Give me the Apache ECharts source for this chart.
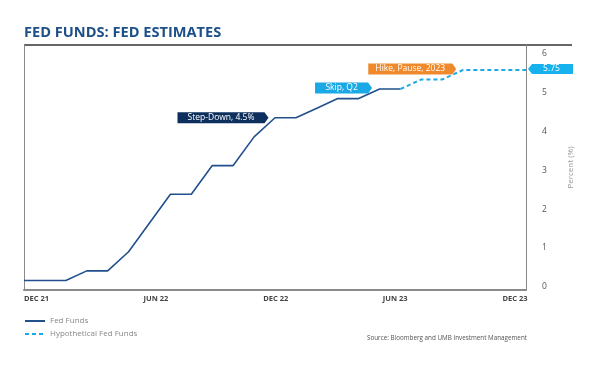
<!DOCTYPE html>
<html>
<head>
<meta charset="utf-8">
<script src="https://cdn.jsdelivr.net/npm/echarts@6/dist/echarts.min.js"></script>
<style>html,body{margin:0;padding:0;background:#fff}#c{width:600px;height:367px}</style>
</head>
<body>
<div id="c"></div>
<script>
const months = ['Dec 21','Jan 22','Feb 22','Mar 22','Apr 22','May 22','Jun 22','Jul 22','Aug 22','Sep 22','Oct 22','Nov 22','Dec 22',
  'Jan 23','Feb 23','Mar 23','Apr 23','May 23','Jun 23','Jul 23','Aug 23','Sep 23','Oct 23','Nov 23','Dec 23'];
const fedFunds = [0.25,0.25,0.25,0.5,0.5,1.0,1.75,2.5,2.5,3.25,3.25,4.0,4.5,4.5,4.75,5.0,5.0,5.25,5.25];
const hypothetical = [null,null,null,null,null,null,null,null,null,null,null,null,null,null,null,null,null,null,5.25,5.5,5.5,5.75,5.75,5.75,5.75];
const xTickLabels = {0:'DEC 21',6:'JUN 22',12:'DEC 22',18:'JUN 23',24:'DEC 23'};
const yTickLabels = ['0','1','2','3','4','5','6'];
const notes = [
  {name:'Step-Down, 4.5%', at:'Dec 22', value:4.5},
  {name:'Skip, Q2', at:'May 23', value:5.25},
  {name:'Hike, Pause, 2023', at:'Sep 23', value:5.75},
  {name:'5.75', at:'Dec 23', value:5.75}
];

const FONT = "'Open Sans', sans-serif";
const chart = echarts.init(document.getElementById('c'));
function tag(w){return 'path://M0,0L'+(w-4)+',0L'+w+',5L'+(w-4)+',10L0,10Z';}
const lbl = (t, off) => ({show:true, position:'inside', formatter:t, color:'#fff', fontSize:8.5, fontFamily:FONT, offset:off});
chart.setOption({
  animation:false,
  textStyle:{fontFamily:FONT},
  title:[
    {text:'FED FUNDS: FED ESTIMATES', left:19, top:20, textStyle:{fontFamily:FONT, fontWeight:'bold', fontSize:14.6, color:'#1d4f88'}},
    {text:'Source: Bloomberg and UMB Investment Management', right:68, top:330, textStyle:{fontFamily:FONT, fontWeight:'normal', fontSize:6.3, color:'#555'}}
  ],
  legend:{orient:'vertical', left:19, top:312, itemWidth:20, itemHeight:8, itemGap:5,
    itemStyle:{opacity:0},
    textStyle:{fontSize:8, color:'#888', fontFamily:FONT},
    data:['Fed Funds','Hypothetical Fed Funds']},
  grid:{left:24, right:74, top:45, bottom:77},
  xAxis:[
    {type:'category', data:months, boundaryGap:false, position:'bottom',
      axisLine:{lineStyle:{color:'#8a8a8a', width:2}}, axisTick:{show:false}, axisLabel:{show:false}, splitLine:{show:false}},
    {type:'value', min:0, max:25.18, interval:6, position:'bottom',
      axisLine:{show:false}, axisTick:{show:false}, splitLine:{show:false},
      axisLabel:{align:'left', margin:5, fontSize:7.5, fontWeight:'bold', color:'#444', fontFamily:FONT,
        formatter:v=>xTickLabels[v]||''}}
  ],
  yAxis:[
    {type:'value', min:0, max:6.4, position:'left',
      axisLine:{show:true, lineStyle:{color:'#8a8a8a', width:1}}, axisTick:{show:false}, axisLabel:{show:false}, splitLine:{show:false}},
    {type:'value', min:-0.085, max:6.23, splitNumber:6, position:'right',
      axisLine:{show:true, lineStyle:{color:'#8a8a8a', width:1}}, axisTick:{show:false}, splitLine:{show:false},
      name:'Percent (%)', nameLocation:'middle', nameRotate:90, nameGap:41,
      nameTextStyle:{fontSize:8, color:'#999', fontFamily:FONT},
      axisLabel:{margin:16, fontSize:8.5, color:'#555', fontFamily:FONT,
        formatter:v=>(Number.isInteger(v) && yTickLabels.indexOf(String(v))>=0)?String(v):''}}
  ],
  graphic:[
    {type:'line', shape:{x1:24, y1:45, x2:572, y2:45}, style:{stroke:'#333', lineWidth:1.5}}
  ],
  series:[
    {name:'Fed Funds', type:'line', data:fedFunds, symbol:'none', xAxisIndex:0, yAxisIndex:0,
      lineStyle:{color:'#21508c', width:1.6}, itemStyle:{color:'#21508c'},
      markPoint:{symbolKeepAspect:false, data:[
        {coord:[notes[0].at, notes[0].value], symbol:tag(91), symbolSize:[91,11], symbolOffset:[-52,0],
          itemStyle:{color:'#0c2f5e'}, label:lbl(notes[0].name,[-2,0])},
        {coord:[notes[1].at, notes[1].value], symbol:tag(57), symbolSize:[57,11], symbolOffset:[-36,-1],
          itemStyle:{color:'#1ba8e6'}, label:lbl(notes[1].name,[-2,0])}
      ]}},
    {name:'Hypothetical Fed Funds', type:'line', data:hypothetical, symbol:'none', xAxisIndex:0, yAxisIndex:0,
      lineStyle:{color:'#1aa9e8', width:2, type:[4,3]}, itemStyle:{color:'#1aa9e8'},
      markPoint:{symbolKeepAspect:false, data:[
        {coord:[notes[2].at, notes[2].value], symbol:tag(88), symbolSize:[88,11], symbolOffset:[-51,-1],
          itemStyle:{color:'#f0892c'}, label:lbl(notes[2].name,[-2,0])},
        {coord:[notes[3].at, notes[3].value], symbol:'path://M4,0L44,0L44,10L4,10L0,5Z', symbolSize:[45,10], symbolOffset:[24.5,-1],
          itemStyle:{color:'#17b1ee'}, label:lbl(notes[3].name,[1,0])}
      ]}}
  ]
});
</script>
</body>
</html>
